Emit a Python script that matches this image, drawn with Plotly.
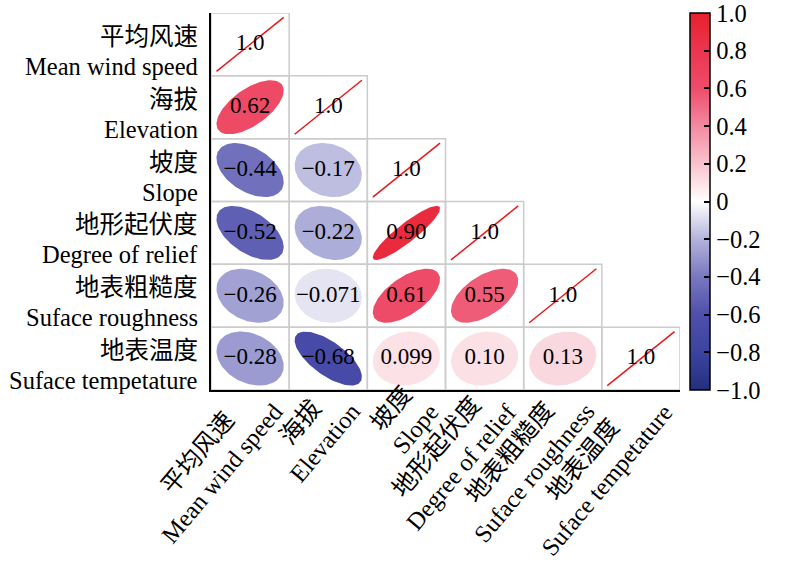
import numpy as np
import plotly.graph_objects as go
from plotly.colors import sample_colorscale

# ---------------- data ----------------
var_cn = ["平均风速", "海拔", "坡度", "地形起伏度", "地表粗糙度", "地表温度"]
var_en = ["Mean wind speed", "Elevation", "Slope", "Degree of relief",
          "Suface roughness", "Suface tempetature"]

# lower-triangle correlation rows (row i has i+1 values, last is diagonal)
corr_rows = [
    [1.0],
    [0.62, 1.0],
    [-0.44, -0.17, 1.0],
    [-0.52, -0.22, 0.90, 1.0],
    [-0.26, -0.071, 0.61, 0.55, 1.0],
    [-0.28, -0.68, 0.099, 0.10, 0.13, 1.0],
]

cbar_ticks = [-1.0, -0.8, -0.6, -0.4, -0.2, 0.0, 0.2, 0.4, 0.6, 0.8, 1.0]

colorscale = [
    [0.0, "#252f7e"],
    [0.1, "#3a44a0"],
    [0.2, "#4f4fac"],
    [0.3, "#7878c0"],
    [0.4, "#b3b3dc"],
    [0.5, "#ffffff"],
    [0.6, "#f8c3ce"],
    [0.7, "#f38aa0"],
    [0.8, "#ee4c69"],
    [0.9, "#eb3650"],
    [1.0, "#e8202c"],
]

FONT = "Liberation Serif, Times New Roman, Noto Sans CJK SC"
FS = 24.5
n = len(var_cn)
K = 0.43


def fmt(v):
    s = "{:#.2g}".format(v)
    if s.endswith("."):
        s = s[:-1]
    return s.replace("-", "\u2212")


def tick_fmt(v):
    if abs(v) < 1e-9:
        return "0"
    return "{:.1f}".format(v).replace("-", "\u2212")


fig = go.Figure()
shapes = []
annotations = []

tx, ty, tt = [], [], []
for i, row in enumerate(corr_rows):
    for j, r in enumerate(row):
        cx = j + 0.5
        cy = n - i - 0.5
        shapes.append(dict(type="rect", x0=j, x1=j + 1, y0=n - i - 1, y1=n - i,
                           line=dict(color="#cccccc", width=1.5), layer="below"))
        if i == j:
            fig.add_trace(go.Scatter(x=[cx - K, cx + K], y=[cy - K, cy + K], mode="lines",
                                     line=dict(color="#e41a1c", width=1.5),
                                     hoverinfo="skip", showlegend=False))
        else:
            a = K * np.sqrt(1 + abs(r))
            b = K * np.sqrt(1 - abs(r))
            th = np.pi / 4 if r > 0 else -np.pi / 4
            t = np.linspace(0, 2 * np.pi, 120)
            u, v = a * np.cos(t), b * np.sin(t)
            ex = cx + u * np.cos(th) - v * np.sin(th)
            ey = cy + u * np.sin(th) + v * np.cos(th)
            col = sample_colorscale(colorscale, [(r + 1) / 2])[0]
            fig.add_trace(go.Scatter(x=ex, y=ey, mode="lines", fill="toself",
                                     fillcolor=col, line=dict(width=0, color=col),
                                     hoverinfo="skip", showlegend=False))
        tx.append(cx)
        ty.append(cy)
        tt.append(fmt(r))

fig.add_trace(go.Scatter(x=tx, y=ty, mode="text", text=tt,
                         textfont=dict(family=FONT, size=23, color="black"),
                         hoverinfo="skip", showlegend=False))

# colorbar carrier
vals = [r for row in corr_rows for r in row]
fig.add_trace(go.Scatter(
    x=[0.5] * len(vals), y=[0.5] * len(vals), mode="markers",
    marker=dict(size=0.1, opacity=0, color=vals, cmin=-1, cmax=1,
                colorscale=colorscale, showscale=True,
                colorbar=dict(x=1.0213, xanchor="left", xpad=0, y=0.5, yanchor="middle",
                              len=1, lenmode="fraction", ypad=0,
                              thickness=20, outlinewidth=1.5, outlinecolor="black",
                              ticks="inside", ticklen=6, tickwidth=1.5, tickcolor="black",
                              ticklabeloverflow="allow",
                              tickvals=cbar_ticks, ticktext=[tick_fmt(v) for v in cbar_ticks],
                              tickfont=dict(family=FONT, size=FS, color="black"))),
    hoverinfo="skip", showlegend=False))

# y-axis labels (two lines each)
for i in range(n):
    cy = n - i - 0.5
    annotations.append(dict(x=0, y=cy, xref="x", yref="y", text=var_cn[i],
                            showarrow=False, xanchor="right", yanchor="middle",
                            xshift=-11, yshift=8,
                            font=dict(family=FONT, size=FS, color="black")))
    annotations.append(dict(x=0, y=cy, xref="x", yref="y", text=var_en[i],
                            showarrow=False, xanchor="right", yanchor="middle",
                            xshift=-11, yshift=-22,
                            font=dict(family=FONT, size=FS, color="black")))

# x-axis labels (rotated, centred lines)
for j in range(n):
    annotations.append(dict(x=j + 0.5, y=0, xref="x", yref="y",
                            text=f"{var_cn[j]}<br>{var_en[j]}",
                            showarrow=False, xanchor="right", yanchor="top",
                            textangle=-50, align="center",
                            xshift=40, yshift=15,
                            font=dict(family=FONT, size=FS, color="black")))

fig.update_layout(
    width=800, height=562,
    margin=dict(l=211, r=120, t=13, b=172, autoexpand=False),
    paper_bgcolor="white", plot_bgcolor="white",
    shapes=shapes, annotations=annotations,
    font=dict(family=FONT, size=FS, color="black"),
    xaxis=dict(range=[0, n], showgrid=False, zeroline=False, showline=True,
               linecolor="black", linewidth=1.5, ticks="", showticklabels=False),
    yaxis=dict(range=[0, n], showgrid=False, zeroline=False, showline=True,
               linecolor="black", linewidth=1.5, ticks="", showticklabels=False),
)

fig.write_html("out.html", config={"displayModeBar": False},
               post_script="document.body.style.margin='0px';")
